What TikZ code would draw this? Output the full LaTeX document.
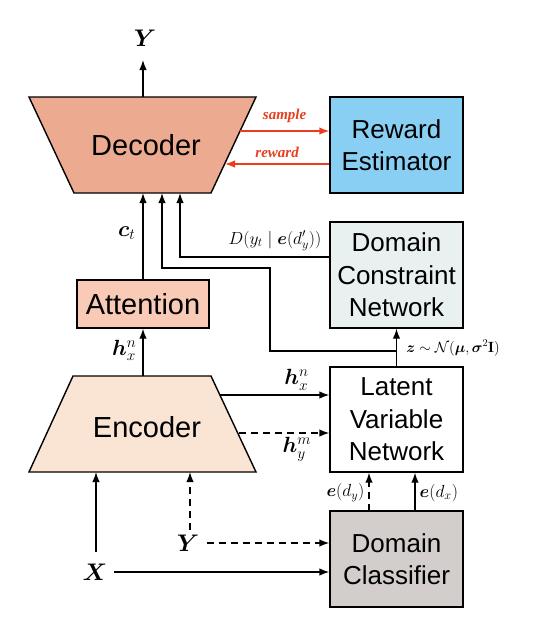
\RequirePackage{fix-cm}
\documentclass[tikz,border=0pt]{standalone}
\usepackage{fontspec}
\usepackage{amsmath,bm}
\usetikzlibrary{arrows.meta,calc}
\newfontfamily\hv{Liberation Sans}
\newfontfamily\tms{Liberation Serif}
\definecolor{decfill}{RGB}{236,171,145}
\definecolor{encfill}{RGB}{250,228,212}
\definecolor{attfill}{RGB}{249,202,182}
\definecolor{rewfill}{RGB}{137,207,243}
\definecolor{dcnfill}{RGB}{232,240,240}
\definecolor{clsfill}{RGB}{211,206,204}
\definecolor{redarr}{RGB}{232,62,30}
\tikzset{
  box/.style={draw, line width=1.4pt, minimum width=133pt, minimum height=96pt, align=center, inner sep=0pt,
    font=\hv\fontsize{26}{32.5}\selectfont},
  arr/.style={line width=1.4pt, -{Latex[length=10pt,width=7.5pt]}},
  darr/.style={arr, dash pattern=on 7pt off 5pt},
  rarr/.style={line width=1.4pt, draw=redarr, -{Latex[length=10pt,width=7.5pt]}},
  big/.style={font=\fontsize{24}{28}\selectfont, inner sep=0pt},
  mlab/.style={font=\fontsize{22}{26}\selectfont, inner sep=0pt},
  slab/.style={font=\fontsize{17.5}{21}\selectfont, inner sep=0pt},
  rlab/.style={font=\tms\fontsize{15}{18}\selectfont\bfseries\itshape, text=redarr, inner sep=0pt},
}
\begin{document}
\begin{tikzpicture}[x=1pt,y=-1pt]
\useasboundingbox (0,0) rectangle (533,635);
% decoder
\coordinate (decTL) at (29,97);
\coordinate (decTR) at (256,97);
\coordinate (decBR) at (211,193);
\coordinate (decBL) at (74,193);
\draw[line width=1.4pt, fill=decfill] (decTL) -- (decTR) -- (decBR) -- (decBL) -- cycle;
\node[font=\hv\fontsize{29}{34}\selectfont] (dec) at (146,145) {Decoder};
% encoder
\coordinate (encTL) at (73,376);
\coordinate (encTR) at (211,376);
\coordinate (encBR) at (256,472);
\coordinate (encBL) at (29,472);
\draw[line width=1.4pt, fill=encfill] (encTL) -- (encTR) -- (encBR) -- (encBL) -- cycle;
\node[font=\hv\fontsize{29}{34}\selectfont] (enc) at (147,427) {Encoder};
% boxes
\node[box, fill=rewfill] (rew) at (396.5,145) {Reward\\Estimator};
\node[box, fill=dcnfill, minimum height=106pt] (dcn) at (396.5,275) {Domain\\Constraint\\Network};
\node[box, fill=white, minimum height=105pt] (lat) at (396.5,419.5) {Latent\\Variable\\Network};
\node[box, fill=clsfill] (cls) at (396.5,559) {Domain\\Classifier};
\node[box, fill=attfill, minimum width=132pt, minimum height=48pt, font=\hv\fontsize{29}{34}\selectfont] (att) at (143,304) {Attention};
% labels
\node[big] (Yout) at (145,38) {$\bm{Y}$};
\node[big] (X) at (95,572) {$\bm{X}$};
\node[big] (Yin) at (188,543) {$\bm{Y}$};
% output arrow
\coordinate (decT) at (143,97);
\coordinate (yend) at (143,60);
\draw[arr] (decT) -- (yend);
% red arrows
\coordinate (decS) at (240,131);
\coordinate (decR) at (225,164);
\draw[rarr] (decS) -- (rew.west |- decS) node[rlab, midway, above=8pt] {sample};
\draw[rarr] (rew.west |- decR) -- (decR) node[rlab, midway, above=6pt] {reward};
% attention -> decoder
\coordinate (decB1) at (143,193);
\draw[arr] (att.north) -- (decB1) node[mlab, midway, left=7pt, yshift=3pt] {$\bm{c}_t$};
% encoder -> attention
\coordinate (encT) at (143,376);
\draw[arr] (encT) -- (att.south) node[mlab, midway, left=6pt, yshift=2pt] {$\bm{h}_x^n$};
% latent -> dcn
\draw[arr] (lat.north) -- (dcn.south);
\coordinate (zj) at (396.5,351);
\node[font=\fontsize{14.8}{18}\selectfont, inner sep=0pt] (zlab) at (453,348) {$\bm{z}\sim\mathcal{N}(\bm{\mu},\bm{\sigma}^2\mathbf{I})$};
\coordinate (decB2) at (162,193);
\draw[arr] (zj) -- (270,351) -- (270,268) -- (162,268) -- (decB2);
% dcn -> decoder
\coordinate (dcnW) at (330,257);
\coordinate (decB3) at (180,193);
\draw[arr] (dcnW) -| (decB3);
\node[slab] (dlab) at (275,241) {$D(y_t\mid\bm{e}(d'_y))$};
% encoder -> latent
\coordinate (encR1) at (220,395);
\coordinate (encR2) at (239,433);
\draw[arr] (encR1) -- (lat.west |- encR1) node[mlab, pos=0.70, above=4pt] {$\bm{h}_x^n$};
\draw[darr] (encR2) -- (lat.west |- encR2) node[mlab, pos=0.64, below=4pt] {$\bm{h}_y^m$};
% classifier -> latent
\coordinate (c1) at (369,511);
\coordinate (c2) at (415,511);
\draw[darr] (c1) -- (c1 |- lat.south) node[slab, midway, left=4pt, yshift=-1pt] {$\bm{e}(d_y)$};
\draw[arr] (c2) -- (c2 |- lat.south) node[slab, midway, right=4pt, yshift=-1pt] {$\bm{e}(d_x)$};
% inputs
\coordinate (encB1) at (96,472);
\coordinate (encB2) at (190,472);
\draw[arr] (X.north -| encB1) ++(0,-12) coordinate (xs) (xs) -- (encB1);
\draw[arr] (X.east) ++(6,0) coordinate (xe) (xe) -- (cls.west |- X);
\draw[darr] (Yin.north -| encB2) ++(0,-5) coordinate (ys) (ys) -- (encB2);
\draw[darr] (Yin.east) ++(8,0) coordinate (ye) (ye) -- (cls.west |- Yin);
\end{tikzpicture}
\end{document}
